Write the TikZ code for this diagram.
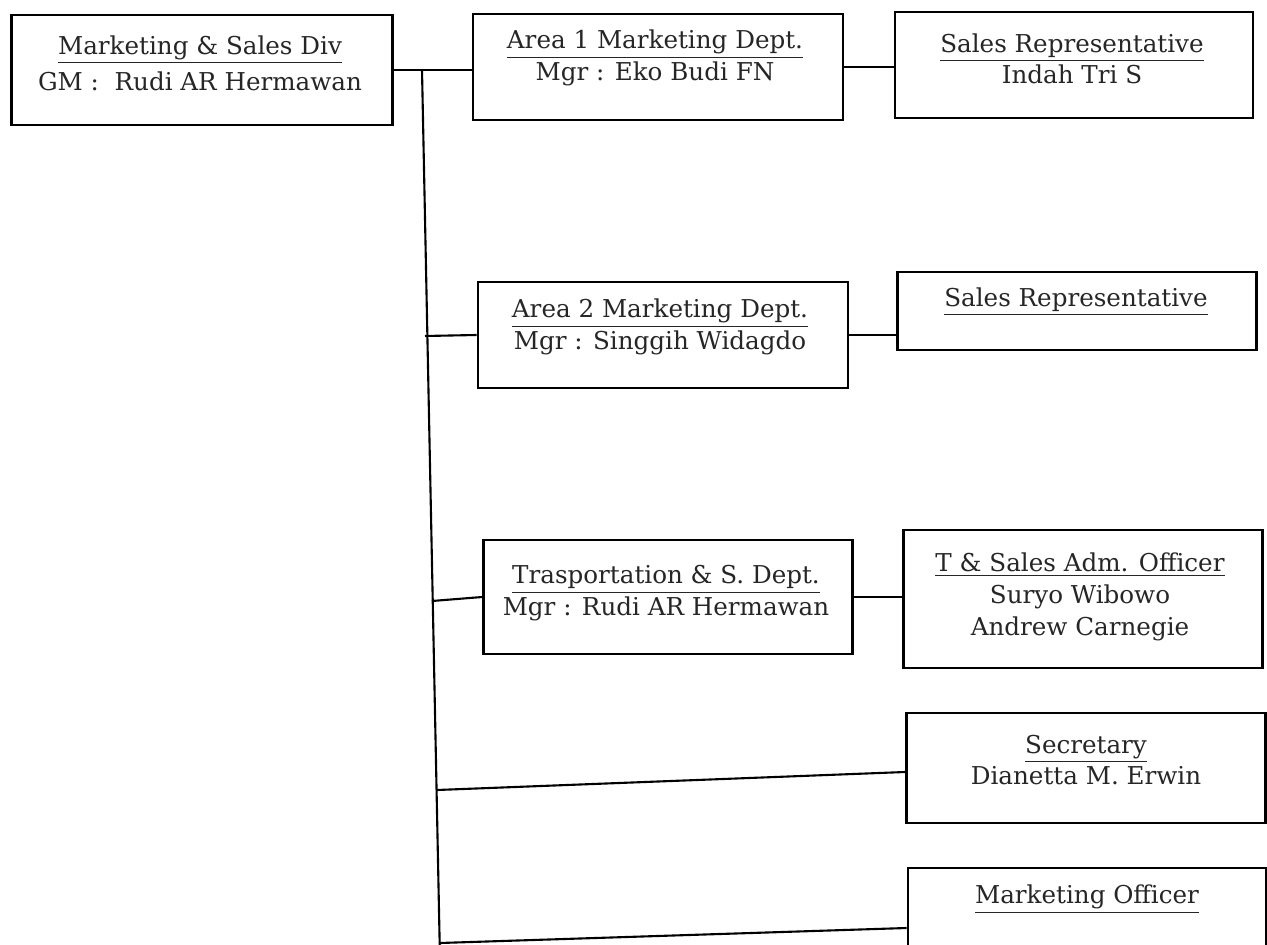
\documentclass[tikz,border=0pt]{standalone}
\usepackage{fontspec}
\setmainfont{DejaVu Serif}

\tikzset{
  box/.style={draw=black, line width=1.1pt, inner sep=0pt},
  txt/.style={align=center, inner sep=0pt, text=black!85, font=\fontsize{10.5}{13.5}\selectfont},
  link/.style={line width=0.9pt, black}
}

\begin{document}
\begin{tikzpicture}[x=0.015cm, y=-0.015cm]
    \clip (0,0) rectangle (1267,945);
    \fill[white] (0,0) rectangle (1267,945);
    % Boxes
    \node[box, minimum width=5.715cm, minimum height=1.65cm] (div) at (202,70) {};
    \node[box, minimum width=5.55cm, minimum height=1.59cm] (area1) at (658,67) {};
    \node[box, minimum width=5.37cm, minimum height=1.59cm] (rep1) at (1074,65) {};
    \node[box, minimum width=5.55cm, minimum height=1.59cm] (area2) at (663,335) {};
    \node[box, minimum width=5.385cm, minimum height=1.17cm] (rep2) at (1077,311) {};
    \node[box, minimum width=5.535cm, minimum height=1.71cm] (trans) at (668,597) {};
    \node[box, minimum width=5.385cm, minimum height=2.07cm] (adm) at (1083,599) {};
    \node[box, minimum width=5.385cm, minimum height=1.65cm] (sec) at (1086,768) {};
    \node[box, minimum width=5.37cm, minimum height=1.8cm] (mkt) at (1087,928) {};
    % Texts
    \node[txt, font=\fontsize{10.5}{15.5}\selectfont] (divtxt) at (200,63) {\underline{Marketing \& Sales Div}\\GM :\ \ Rudi AR Hermawan};
    \node[txt] (area1txt) at (655,58) {\underline{Area 1 Marketing Dept.}\\Mgr : Eko Budi FN};
    \node[txt] (rep1txt) at (1072,59) {\underline{Sales Representative}\\Indah Tri S};
    \node[txt] (area2txt) at (660,327) {\underline{Area 2 Marketing Dept.}\\Mgr : Singgih Widagdo};
    \node[txt] (rep2txt) at (1076,302) {\underline{Sales Representative}};
    \node[txt] (transtxt) at (666,593) {\underline{Trasportation \& S. Dept.}\\Mgr : Rudi AR Hermawan};
    \node[txt] (admtxt) at (1080,597) {\underline{T \& Sales Adm. Officer}\\Suryo Wibowo\\Andrew Carnegie};
    \node[txt] (sectxt) at (1086,760) {\underline{Secretary}\\Dianetta M. Erwin};
    \node[txt] (mkttxt) at (1087,899) {\underline{Marketing Officer}};
    % Trunk
    \coordinate (ttop) at (422,70);
    \coordinate (t2) at (425,336);
    \coordinate (t3) at (432,601);
    \coordinate (t4) at (437,790);
    \coordinate (t5) at (440,943);
    \coordinate (tbot) at (440,960);
    \draw[link] (ttop) -- (tbot);
    % Branches
    \draw[link] (div.east) -- (div.east -| area1.west);
    \draw[link] (area1.east) -- (area1.east -| rep1.west);
    \draw[link] (t2) -- (area2.west);
    \draw[link] (area2.east) -- (area2.east -| rep2.west);
    \draw[link] (t3) -- (trans.west);
    \draw[link] (trans.east) -- (trans.east -| adm.west);
    \draw[link] (t4) -- ([yshift=-0.06cm]sec.west);
    \draw[link] (t5) -- (mkt.west);
\end{tikzpicture}
\end{document}
